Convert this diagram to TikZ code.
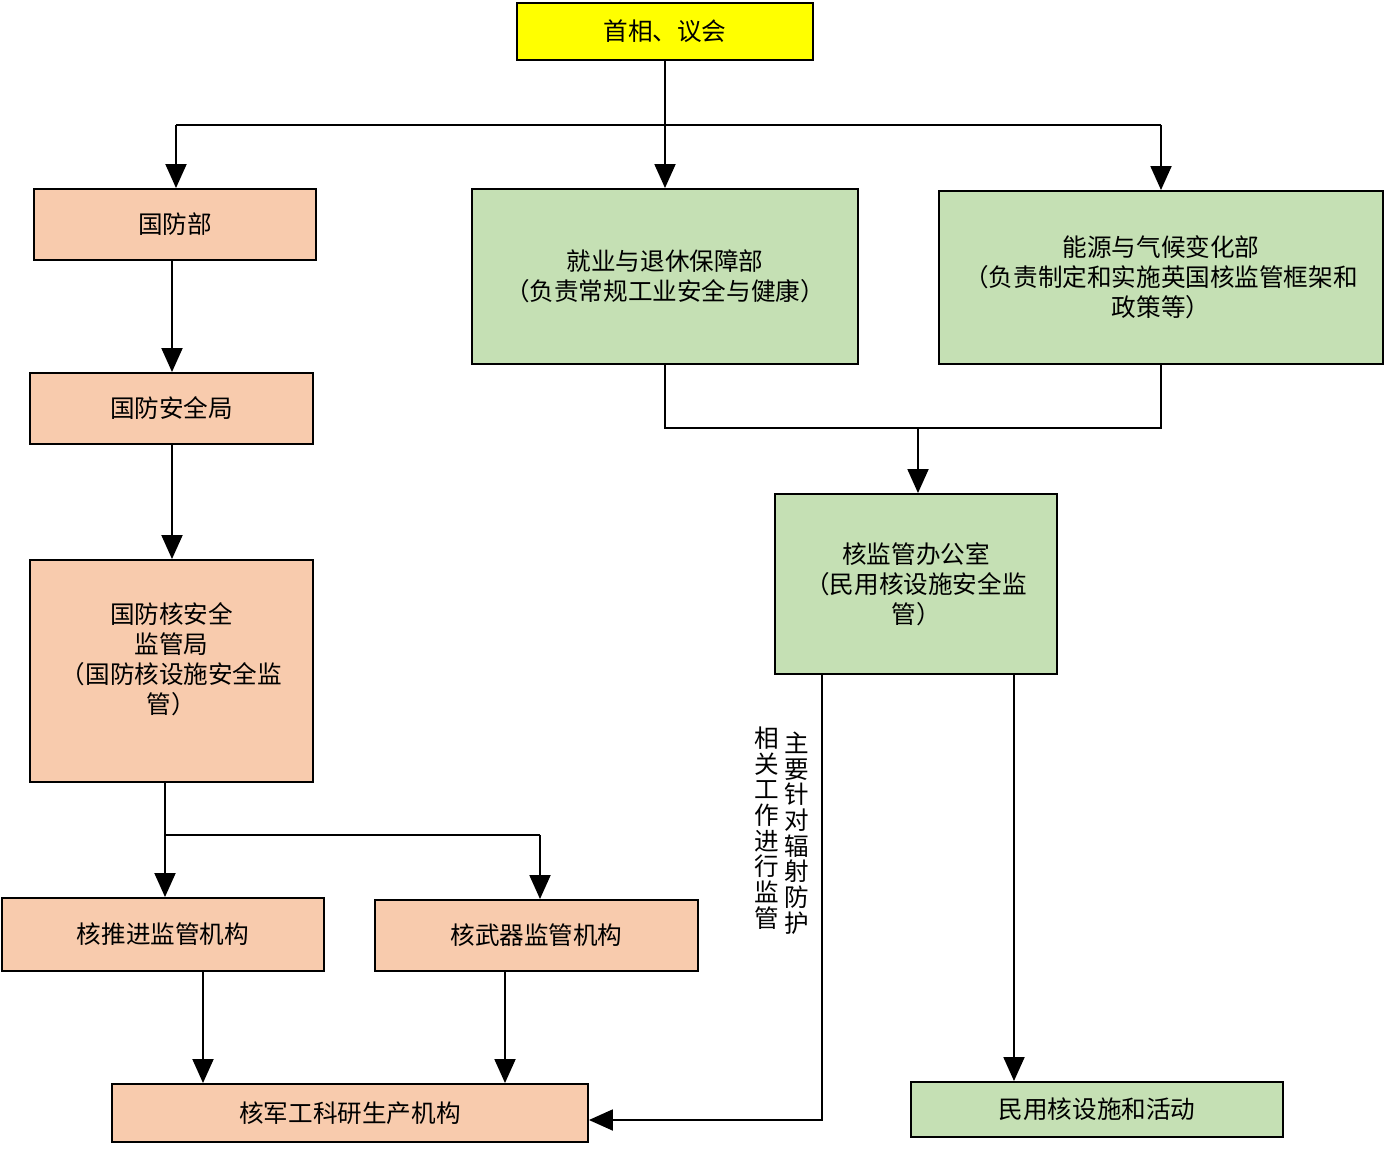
\documentclass[tikz,border=0pt]{standalone}
\usepackage{fontspec}
\setmainfont{Noto Sans CJK SC}
\usepackage{tikz}
\usetikzlibrary{arrows.meta}

\definecolor{orangebox}{HTML}{F8CBAD}
\definecolor{greenbox}{HTML}{C5E0B4}
\definecolor{yellowbox}{HTML}{FFFF00}

\tikzset{
  kasten/.style={draw, line width=1.1pt, align=center, inner sep=2pt,
    font=\fontsize{14}{17}\selectfont},
  orange/.style={kasten, fill=orangebox},
  gruen/.style={kasten, fill=greenbox},
  pfeil/.style={line width=1.1pt, -{Triangle[length=0.48cm,width=0.42cm]}},
  linie/.style={line width=1.1pt},
  senkrecht/.style={align=center, inner sep=0pt, font=\fontsize{14}{14.6}\selectfont}
}

\begin{document}
\begin{tikzpicture}[x=0.02cm, y=-0.02cm]
\useasboundingbox (0,0) rectangle (1390,1152);

%Kaesten
\node[kasten, fill=yellowbox, minimum width=5.92cm, minimum height=1.14cm] (top) at (665,31.5) {首相、议会};
\node[orange, minimum width=5.64cm, minimum height=1.42cm] (gfb) at (175,224.5) {国防部};
\node[gruen, minimum width=7.72cm, minimum height=3.5cm] (jy) at (665,276.5) {就业与退休保障部\\（负责常规工业安全与健康）};
\node[gruen, minimum width=8.88cm, minimum height=3.46cm] (ny) at (1161,277.5) {能源与气候变化部\\（负责制定和实施英国核监管框架和\\政策等）};
\node[orange, minimum width=5.66cm, minimum height=1.42cm] (aqj) at (171.5,408.5) {国防安全局};
\node[gruen, minimum width=5.64cm, minimum height=3.6cm] (hjg) at (916,584) {核监管办公室\\（民用核设施安全监\\管）};
\node[orange, minimum width=5.66cm, minimum height=4.44cm,
  label={[align=center, font=\fontsize{14}{17}\selectfont, yshift=0.24cm]center:国防核安全\\监管局\\（国防核设施安全监\\管）}] (gfh) at (171.5,671) {};
\node[orange, minimum width=6.44cm, minimum height=1.46cm] (htj) at (163,934.5) {核推进监管机构};
\node[orange, minimum width=6.46cm, minimum height=1.42cm] (hwq) at (536.5,935.5) {核武器监管机构};
\node[orange, minimum width=9.52cm, minimum height=1.16cm] (kyc) at (350,1113) {核军工科研生产机构};
\node[gruen, minimum width=7.44cm, minimum height=1.1cm] (myh) at (1097,1109.5) {民用核设施和活动};

%Verzweigungen
\coordinate (v1) at (176,125);
\coordinate (v2) at (1161,125);
\coordinate (m) at (918,428);
\coordinate (g) at (165,835);
\coordinate (g2) at (540,835);
\coordinate (c) at (822,1120);

\draw[linie] (top.south) -- (top.south |- v1);
\draw[linie] (v1) -- (v2);
\draw[pfeil] (top.south) -- (jy.north);
\draw[pfeil] (v1) -- (v1 |- gfb.north);
\draw[pfeil] (v2) -- (v2 |- ny.north);
\draw[pfeil] (172,0 |- gfb.south) -- (172,0 |- aqj.north);
\draw[pfeil] (172,0 |- aqj.south) -- (172,0 |- gfh.north);

\draw[linie] (jy.south) -- (jy.south |- m) -- (ny.south |- m) -- (ny.south);
\draw[pfeil] (m) -- (m |- hjg.north);

\draw[pfeil] (g |- gfh.south) -- (g |- htj.north);
\draw[linie] (g) -- (g2);
\draw[pfeil] (g2) -- (g2 |- hwq.north);
\draw[pfeil] (203,0 |- htj.south) -- (203,0 |- kyc.north);
\draw[pfeil] (505,0 |- hwq.south) -- (505,0 |- kyc.north);

\draw[pfeil] (c |- hjg.south) -- (c) -- (kyc.east |- c);
\draw[pfeil] (1014,0 |- hjg.south) -- (1014,0 |- myh.north);

\node[senkrecht] (t1) at (797,833) {主\\要\\针\\对\\辐\\射\\防\\护};
\node[senkrecht] (t2) at (767,828) {相\\关\\工\\作\\进\\行\\监\\管};
\end{tikzpicture}
\end{document}
